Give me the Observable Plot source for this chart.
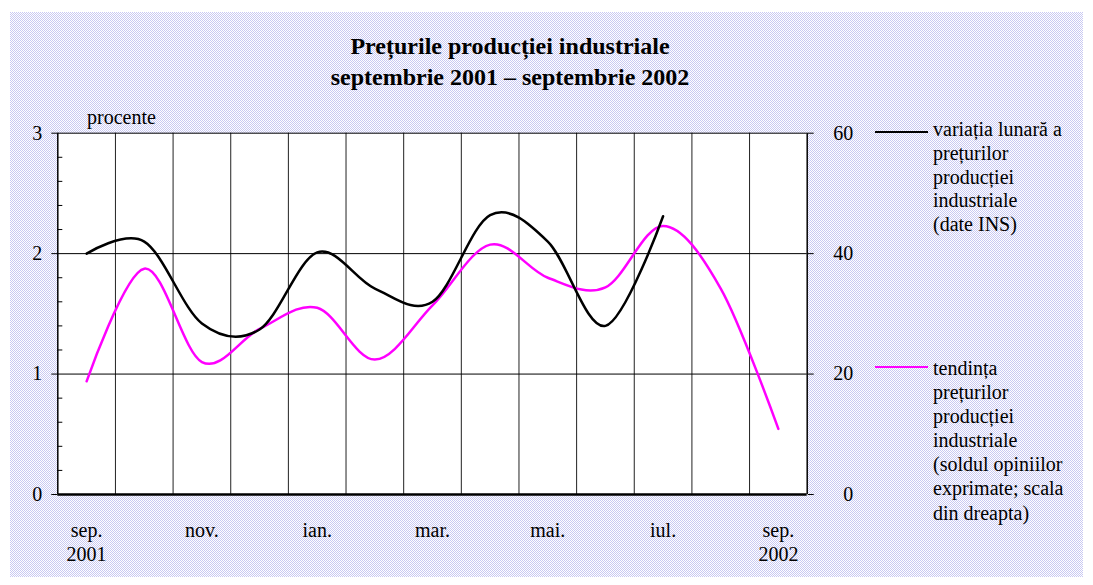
<!DOCTYPE html>
<html>
<head>
<meta charset="utf-8">
<script src="https://cdn.jsdelivr.net/npm/d3@7"></script>
<script src="https://cdn.jsdelivr.net/npm/@observablehq/plot@0.6"></script>
<style>
  html, body { margin: 0; padding: 0; background: #ffffff; }
  #wrap { position: relative; width: 1093px; height: 585px; overflow: hidden; font-family: "Liberation Serif", "Times New Roman", serif; color: #000; }
  #panel { position: absolute; left: 10px; top: 12px; width: 1073px; height: 565px;
    background-image: url("data:image/svg+xml,%3Csvg xmlns='http://www.w3.org/2000/svg' width='2' height='2' shape-rendering='crispEdges'%3E%3Crect width='2' height='2' fill='%23ffffff'/%3E%3Crect width='1' height='1' fill='%23c9c9f2'/%3E%3Crect x='1' y='1' width='1' height='1' fill='%23c9c9f2'/%3E%3C/svg%3E");
    background-size: 2px 2px; image-rendering: pixelated; }
  #chart { position: absolute; left: 0; top: 0; }
  .title { position: absolute; left: 260px; width: 500px; text-align: center; font-weight: bold; font-size: 24px; line-height: 31px; top: 31px; }
  .note { position: absolute; font-size: 20px; line-height: 20px; }
  .leg { position: absolute; left: 933px; font-size: 20px; white-space: nowrap; }
  .legline { position: absolute; left: 875px; width: 53px; height: 0; }
</style>
</head>
<body>
<div id="wrap">
  <div id="panel"></div>
  <div id="chart"></div>
  <div class="title">Prețurile producției industriale<br>septembrie 2001 – septembrie 2002</div>
  <div class="note" style="left:87px; top:107px;">procente</div>
  <div class="legline" style="top:131px; border-top:2.5px solid #000;"></div>
  <div class="leg" style="top:118px; line-height:23.75px;">variația lunară a<br>prețurilor<br>producției<br>industriale<br>(date INS)</div>
  <div class="legline" style="top:365.5px; border-top:2.5px solid #ff00ff;"></div>
  <div class="leg" style="top:356px; line-height:24.1px;">tendința<br>prețurilor<br>producției<br>industriale<br>(soldul opiniilor<br>exprimate; scala<br>din dreapta)</div>
</div>
<script>
// Months (Sep 2001 – Sep 2002)
const months = ["sep.", "oct.", "nov.", "dec.", "ian.", "feb.", "mar.", "apr.", "mai.", "iun.", "iul.", "aug.", "sep."];
const monthYears = ["2001", "", "", "", "", "", "", "", "", "", "", "", "2002"];
const labelledMonths = [0, 2, 4, 6, 8, 10, 12];

// Monthly change of industrial producer prices, % (left scale) – INS data, Sep 2001 – Jul 2002
const variatieLunara = [2.00, 2.10, 1.42, 1.37, 2.01, 1.71, 1.60, 2.32, 2.10, 1.40, 2.31];
// Producer price expectations, balance of opinions (right scale)
const tendintaPreturi = [18.8, 37.5, 22.0, 27.5, 31.0, 22.4, 31.4, 41.5, 36.0, 34.4, 44.6, 34.2, 10.9];

// Axis ticks
const leftTicks = [0, 1, 2, 3];
const rightTicks = [0, 20, 40, 60];
const minorStep = 0.2;

const ratio = rightTicks[rightTicks.length - 1] / leftTicks[leftTicks.length - 1];
const minorTicks = d3.range(0, leftTicks[leftTicks.length - 1] + 1e-9, minorStep)
  .map(v => +v.toFixed(2)).filter(v => Math.abs(v - Math.round(v)) > 1e-6);

const blackData = variatieLunara.map((v, i) => ({i, v}));
const pinkData = tendintaPreturi.map((v, i) => ({i, v: v / ratio}));
const boundaries = d3.range(1, months.length).map(i => i - 0.5);
const xMin = -0.5, xMax = months.length - 0.5;

const chart = Plot.plot({
  width: 1093,
  height: 585,
  marginLeft: 57.3,
  marginRight: 286.3,
  marginTop: 132.7,
  marginBottom: 91,
  x: {domain: [xMin, xMax]},
  y: {domain: [leftTicks[0], leftTicks[leftTicks.length - 1]]},
  style: {fontFamily: "Liberation Serif, Times New Roman, serif", fontSize: "20px", background: "transparent", color: "#000", overflow: "visible"},
  marks: [
    Plot.frame({fill: "#ffffff", stroke: "none"}),
    Plot.ruleX(boundaries, {stroke: "#222", strokeWidth: 1}),
    Plot.ruleY(leftTicks.slice(1, -1), {stroke: "#000", strokeWidth: 1}),
    Plot.ruleY([leftTicks[leftTicks.length - 1]], {stroke: "#000", strokeWidth: 1}),
    // left minor ticks (inside)
    Plot.axisY({anchor: "left", ticks: minorTicks, tickSize: 5, dx: 5, fill: "none", label: null}),
    // left major ticks (outside)
    Plot.axisY({anchor: "left", ticks: leftTicks, tickSize: 6, fill: "none", label: null}),
    Plot.axisY({anchor: "left", ticks: leftTicks, tickSize: 0, tickPadding: 15.5, tickFormat: d => String(d), fontSize: 20, label: null}),
    // right axis
    Plot.axisY({anchor: "right", ticks: rightTicks.map(v => v / ratio), tickSize: 6, fill: "none", label: null}),
    Plot.axisY({anchor: "right", ticks: rightTicks.map(v => v / ratio), tickSize: 0, tickPadding: 46, textAnchor: "end",
      tickFormat: d => String(Math.round(d * ratio)), fontSize: 20, label: null}),
    // x labels
    Plot.axisX({ticks: labelledMonths, tickSize: 0, tickPadding: 25, lineHeight: 1.2, fontSize: 20, label: null,
      tickFormat: i => monthYears[i] ? `${months[i]}\n${monthYears[i]}` : months[i]}),
    // series
    Plot.lineY(pinkData, {x: "i", y: "v", stroke: "#ff00ff", strokeWidth: 2.5, curve: "cardinal", tension: 0}),
    Plot.lineY(blackData, {x: "i", y: "v", stroke: "#000000", strokeWidth: 2.5, curve: "cardinal", tension: 0}),
    // borders
    Plot.ruleX([xMin], {stroke: "#000", strokeWidth: 1.5}),
    Plot.ruleX([xMax], {stroke: "#000", strokeWidth: 1.5}),
    Plot.ruleY([leftTicks[0]], {stroke: "#000", strokeWidth: 2.5})
  ]
});
document.getElementById("chart").appendChild(chart);
</script>
</body>
</html>
